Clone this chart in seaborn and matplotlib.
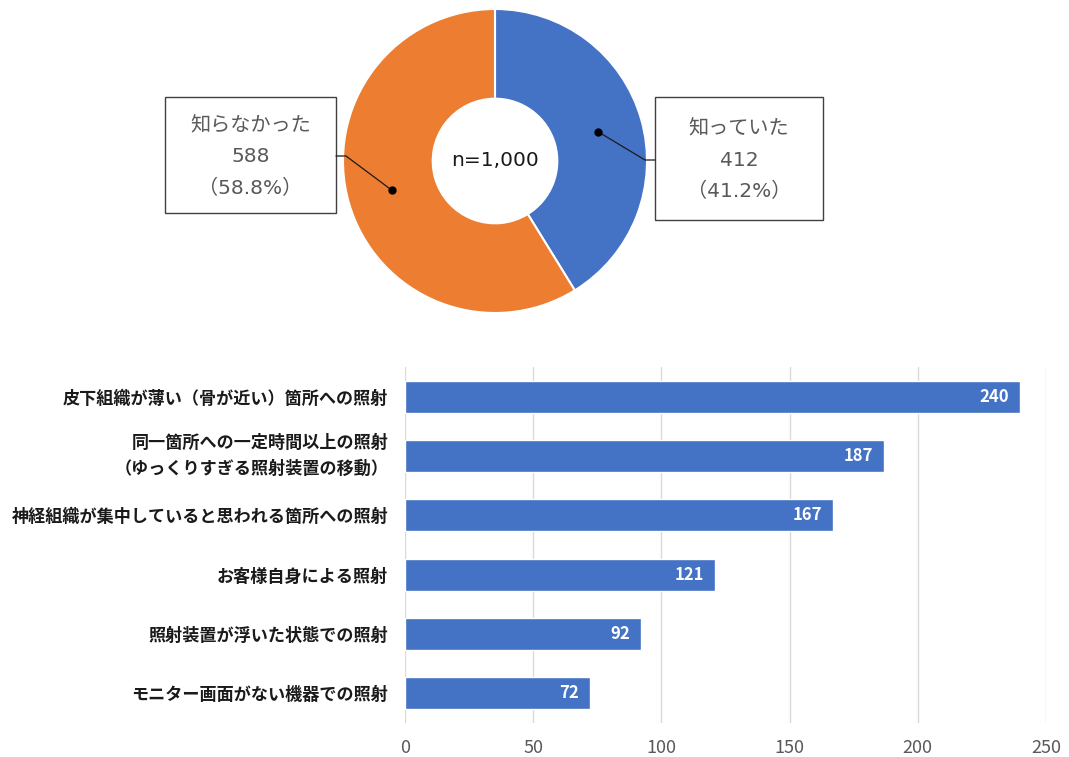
import numpy as np
import matplotlib
matplotlib.use('Agg')
import matplotlib.pyplot as plt
from matplotlib.patches import Rectangle
import seaborn as sns

# donut data
pie_labels = ['知っていた', '知らなかった']
pie_values = [412, 588]
pie_total = 1000

# bar data
bar_labels = ['皮下組織が薄い（骨が近い）箇所への照射',
              '同一箇所への一定時間以上の照射\n（ゆっくりすぎる照射装置の移動）',
              '神経組織が集中していると思われる箇所への照射',
              'お客様自身による照射',
              '照射装置が浮いた状態での照射',
              'モニター画面がない機器での照射']
bar_values = [240, 187, 167, 121, 92, 72]
x_ticks = [0, 50, 100, 150, 200, 250]
bar_n = 412

BLUE = '#4472C4'
ORANGE = '#ED7D31'
GRAY = '#595959'
WIDE = ['DejaVu Sans', 'Noto Sans CJK JP']   # wider latin digits, CJK fallback

sns.set_theme(style='white')
plt.rcParams['font.family'] = ['Noto Sans CJK JP', 'DejaVu Sans']

W, H = 1069, 757
fig = plt.figure(figsize=(W / 100, H / 100), dpi=100)


def px_box(left, top, width, height):
    return [left / W, (H - top - height) / H, width / W, height / H]


# ---- donut ----
ring = 0.59
ax_pie = fig.add_axes(px_box(343, 9, 304, 304))
ax_pie.pie(pie_values, colors=[BLUE, ORANGE], startangle=90, counterclock=False,
           wedgeprops=dict(width=ring, edgecolor='white', linewidth=1.5))
ax_pie.set_xlim(-1, 1)
ax_pie.set_ylim(-1, 1)
ax_pie.text(0, 0, 'n=1,000', ha='center', va='center', fontsize=14.5,
            color='#1a1a1a', family=WIDE)

# overlay in pixel coords (top-left origin) for boxes / leader lines
ov = fig.add_axes([0, 0, 1, 1])
ov.set_xlim(0, W)
ov.set_ylim(H, 0)
ov.axis('off')


def to_px(x, y):
    disp = ax_pie.transData.transform((x, y))
    return ov.transData.inverted().transform(disp)


# box left/top/width/height and leader start point per slice
boxes = {
    '知っていた': dict(rect=(655, 97, 168, 123), edge=(655, 160), elbow=(645, 160)),
    '知らなかった': dict(rect=(165, 97, 171, 116), edge=(336, 156), elbow=(346, 156)),
}

cum = 0
r_mid = 1 - ring / 2
for lab, val in zip(pie_labels, pie_values):
    mid = np.deg2rad(90 - 360 * (cum + val / 2) / pie_total)
    cum += val
    dx, dy = to_px(r_mid * np.cos(mid), r_mid * np.sin(mid))
    b = boxes[lab]
    l, t, w, h = b['rect']
    ov.add_patch(Rectangle((l, t), w, h, fill=True, facecolor='white',
                           edgecolor='#404040', linewidth=1))
    ov.plot([b['edge'][0], b['elbow'][0], dx], [b['edge'][1], b['elbow'][1], dy],
            color='#1a1a1a', linewidth=0.9)
    ov.plot(dx, dy, 'o', color='black', markersize=5)
    txt = f'{lab}\n{val}\n（{val / pie_total * 100:.1f}%）'
    ov.text(l + w / 2, t + h / 2 + 2, txt, ha='center', va='center',
            fontsize=14.5, color=GRAY, linespacing=1.8, family=WIDE)

# ---- bars ----
ax_bar = fig.add_axes(px_box(405, 367, 641, 356))
sns.barplot(x=bar_values, y=bar_labels, orient='h', color=BLUE, width=0.54,
            saturation=1, ax=ax_bar)
ax_bar.set_xlim(0, 250)
ax_bar.set_xticks(x_ticks)
ax_bar.grid(axis='x', color='#d9d9d9', linewidth=1)
ax_bar.grid(axis='y', visible=False)
ax_bar.set_axisbelow(True)
for s in ax_bar.spines.values():
    s.set_visible(False)
ax_bar.tick_params(axis='x', length=0, pad=11.5, labelsize=13, labelcolor=GRAY)
ax_bar.tick_params(axis='y', length=0, pad=12)
for lbl in ax_bar.get_yticklabels():
    lbl.set_fontsize(12.3)
    lbl.set_fontweight('bold')
    lbl.set_color('#1a1a1a')
    lbl.set_linespacing(1.6)
    if '\n' in lbl.get_text():
        lbl.set_verticalalignment('center')
vals = ax_bar.bar_label(ax_bar.containers[0], padding=-8, color='white',
                        fontsize=12, fontweight='bold')
for t in vals:
    t.set_horizontalalignment('right')

ov.add_patch(Rectangle((906, 637), 124, 80, fill=True, facecolor='white',
                       edgecolor='#404040', linewidth=1))
ov.text(968, 677, f'n={bar_n}\n（複数回答）', ha='center', va='center',
        fontsize=12, color='#262626', linespacing=1.4)

fig.savefig('out.png', dpi=100)
